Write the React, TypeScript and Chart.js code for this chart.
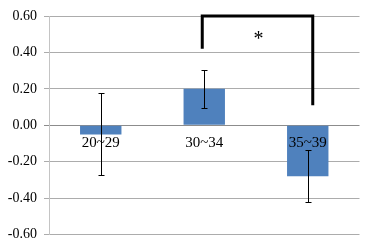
import React, { useEffect, useRef } from "react";
import { Chart, registerables } from "chart.js";

Chart.register(...registerables);

const categories = ["20~29", "30~34", "35~39"];
const means = [-0.05, 0.2, -0.28];
const errors = [0.225, 0.105, 0.143];
const yMin = -0.6;
const yMax = 0.6;
const yStep = 0.2;
// significance bracket between category 1 and 2 (indices)
const bracketFrom = 1;
const bracketTo = 2;
const bracketTop = 0.6;
const bracketLeftBottom = 0.42;
const bracketRightBottom = 0.11;
const bracketLabel = "*";
const bracketLabelY = 0.44;

const FONT = "'Liberation Serif', 'Times New Roman', serif";

const overlayPlugin = {
  id: "overlay",
  afterDraw(chart: any) {
    const ctx = chart.ctx as CanvasRenderingContext2D;
    const xs = chart.scales.x;
    const ys = chart.scales.y;
    ctx.save();
    // category labels at the zero line
    ctx.fillStyle = "#000";
    ctx.font = `15px ${FONT}`;
    ctx.textAlign = "center";
    ctx.textBaseline = "top";
    const y0 = ys.getPixelForValue(0);
    for (let i = 0; i < categories.length; i++) {
      ctx.fillText(categories[i], xs.getPixelForValue(i), y0 + 10);
    }
    // error bars
    ctx.strokeStyle = "#000";
    ctx.lineWidth = 1;
    for (let i = 0; i < means.length; i++) {
      const x = Math.round(xs.getPixelForValue(i)) + 0.5;
      const yt = Math.round(ys.getPixelForValue(means[i] + errors[i])) + 0.5;
      const yb = Math.round(ys.getPixelForValue(means[i] - errors[i])) + 0.5;
      ctx.beginPath();
      ctx.moveTo(x, yt);
      ctx.lineTo(x, yb);
      ctx.moveTo(x - 3, yt);
      ctx.lineTo(x + 3, yt);
      ctx.moveTo(x - 3, yb);
      ctx.lineTo(x + 3, yb);
      ctx.stroke();
    }
    // bracket
    const xl = xs.getPixelForValue(bracketFrom) - 2;
    const xr = xs.getPixelForValue(bracketTo) + 5;
    const yTop = ys.getPixelForValue(bracketTop);
    ctx.lineWidth = 3;
    ctx.lineJoin = "miter";
    ctx.lineCap = "butt";
    ctx.beginPath();
    ctx.moveTo(xl, ys.getPixelForValue(bracketLeftBottom));
    ctx.lineTo(xl, yTop);
    ctx.lineTo(xr, yTop);
    ctx.lineTo(xr, ys.getPixelForValue(bracketRightBottom));
    ctx.stroke();
    ctx.font = `20px ${FONT}`;
    ctx.textBaseline = "alphabetic";
    ctx.fillText(bracketLabel, (xl + xr) / 2 + 1, ys.getPixelForValue(bracketLabelY));
    ctx.restore();
  },
};

export default function App() {
  const ref = useRef<HTMLCanvasElement>(null);
  useEffect(() => {
    if (!ref.current) return;
    const chart = new Chart(ref.current, {
      type: "bar",
      data: {
        labels: categories,
        datasets: [
          {
            data: means,
            backgroundColor: "#4f81bd",
            borderWidth: 0,
            categoryPercentage: 1,
            barPercentage: 0.4,
          },
        ],
      },
      options: {
        responsive: false,
        animation: false,
        devicePixelRatio: 1,
        layout: { padding: { top: 16, bottom: 13, left: 0, right: 8.5 } },
        plugins: { legend: { display: false }, tooltip: { enabled: false } },
        scales: {
          x: {
            position: { y: 0 } as any,
            grid: { display: false, drawTicks: false },
            border: { display: false },
            ticks: { display: false },
          },
          y: {
            min: yMin,
            max: yMax,
            afterFit: (s: any) => {
              s.width = 49;
            },
            grid: {
              color: (c: any) => (c.tick && c.tick.value === 0 ? "#8c8c8c" : "#acacac"),
              tickLength: 5,
              lineWidth: 1,
            },
            border: { color: "#c4c4c4" },
            ticks: {
              stepSize: yStep,
              padding: 7,
              color: "#000",
              font: { family: FONT, size: 14 },
              callback: (v: any) => Number(v).toFixed(2),
            },
          },
        },
      },
      plugins: [overlayPlugin],
    });
    return () => chart.destroy();
  }, []);
  return (
    <div style={{ position: "fixed", left: 0, top: 0, width: 368, height: 250, background: "#fff" }}>
      <canvas ref={ref} width={368} height={250} style={{ display: "block" }} />
    </div>
  );
}
